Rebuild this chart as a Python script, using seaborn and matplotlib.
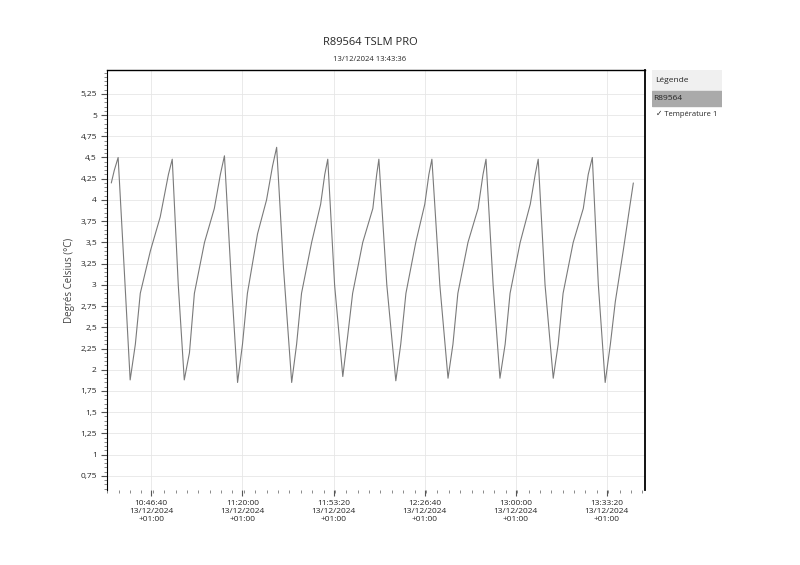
import numpy as np
import pandas as pd
import matplotlib
matplotlib.use('Agg')
import matplotlib.pyplot as plt
import seaborn as sns
from matplotlib.ticker import FixedLocator, MultipleLocator, FuncFormatter

# minutes elapsed since 10:30:32 and temperature readings
minutes = [1.5, 2.6, 4.0, 6.2, 8.4, 10.3, 12.1, 15.8, 19.4, 22.4, 23.8, 26.0, 28.2, 30.1, 31.9,
           35.6, 39.2, 41.4, 42.9, 45.5, 47.7, 49.5, 51.3, 55.0, 58.3, 60.5, 62.0, 64.5, 67.5,
           69.3, 71.1, 74.8, 78.1, 79.6, 80.7, 83.2, 86.2, 88.0, 89.8, 93.5, 97.2, 98.6, 99.4,
           102.3, 105.6, 107.4, 109.3, 112.9, 116.2, 117.7, 118.8, 121.7, 124.7, 126.5, 128.3,
           132.0, 135.7, 137.5, 138.6, 141.2, 143.7, 145.6, 147.4, 151.1, 154.8, 156.6, 157.7,
           160.2, 163.2, 165.0, 166.8, 170.5, 174.2, 176.0, 177.5, 179.7, 182.2, 184.1, 185.9,
           188.8, 191.1, 192.5]
temps = [4.2, 4.35, 4.5, 3.2, 1.88, 2.3, 2.9, 3.4, 3.8, 4.3, 4.48, 3.0, 1.88, 2.2, 2.9,
         3.5, 3.9, 4.3, 4.52, 3.0, 1.85, 2.3, 2.9, 3.6, 4.0, 4.4, 4.62, 3.2, 1.85,
         2.3, 2.9, 3.5, 3.95, 4.3, 4.48, 3.0, 1.92, 2.4, 2.9, 3.5, 3.9, 4.3, 4.48,
         3.0, 1.87, 2.3, 2.9, 3.5, 3.95, 4.3, 4.48, 3.0, 1.9, 2.3, 2.9,
         3.5, 3.9, 4.3, 4.48, 3.0, 1.9, 2.3, 2.9, 3.5, 3.95, 4.3, 4.48,
         3.0, 1.9, 2.3, 2.9, 3.5, 3.9, 4.3, 4.5, 3.0, 1.85, 2.3, 2.8,
         3.4, 3.9, 4.2]
tick_labels = ["10:46:40", "11:20:00", "11:53:20", "12:26:40", "13:00:00", "13:33:20"]
tick_minutes = [16.13, 49.47, 82.8, 116.13, 149.47, 182.8]

df = pd.DataFrame({"t": minutes, "temp": temps})

sns.set_style("white")
plt.rcParams['font.family'] = ['Open Sans', 'DejaVu Sans']
fig = plt.figure(figsize=(8, 5.65), dpi=100)
ax = fig.add_axes([0.134, 0.133, 0.672, 0.743])
sns.lineplot(data=df, x="t", y="temp", ax=ax, color="#7a7a7a", linewidth=0.8)

ax.set_xlim(0, 196.7)
ax.set_ylim(0.585, 5.53)
ax.yaxis.set_major_locator(FixedLocator(np.arange(0.75, 5.26, 0.25)))
ax.yaxis.set_minor_locator(MultipleLocator(0.05))
ax.yaxis.set_major_formatter(FuncFormatter(lambda v, p: f"{v:g}".replace(".", ",")))
ax.xaxis.set_major_locator(FixedLocator(tick_minutes))
ax.xaxis.set_minor_locator(MultipleLocator(33.33 / 8))
ax.set_xticklabels([f"{l}\n13/12/2024\n+01:00" for l in tick_labels])
ax.tick_params(axis="both", which="major", labelsize=6, length=4, color="#555", direction="out", left=True, bottom=True)
ax.tick_params(axis="both", which="minor", length=2, color="#777", left=True, bottom=True)
ax.grid(True, color="#e6e6e6", linewidth=0.6)
ax.spines["top"].set_linewidth(1.0)
ax.spines["top"].set_color("black")
ax.spines["right"].set_linewidth(1.3)
ax.spines["right"].set_color("black")
ax.spines["left"].set_linewidth(0.8)
ax.spines["left"].set_color("black")
ax.spines["bottom"].set_visible(False)
ax.set_xlabel("")
ax.set_ylabel("Degrés Celsius (°C)", fontsize=7, color="#444")

fig.text(0.4625, 0.92, "R89564 TSLM PRO", ha="center", fontsize=8)
fig.text(0.4625, 0.892, "13/12/2024 13:43:36", ha="center", fontsize=5.5)

# legend panel
lg = fig.add_axes([0.815, 0.784, 0.088, 0.092])
lg.set_xlim(0, 1); lg.set_ylim(0, 1)
lg.axis("off")
lg.add_patch(plt.Rectangle((0, 0.62), 1, 0.38, color="#f0f0f0"))
lg.add_patch(plt.Rectangle((0, 0.3), 1, 0.3, color="#aaaaaa"))
lg.text(0.05, 0.8, "Légende", fontsize=6, va="center")
lg.text(0.02, 0.45, "R89564", fontsize=6, va="center")
lg.text(0.05, 0.15, "✓ Température 1", fontsize=5.5, va="center")

fig.savefig("out.png", dpi=100)
